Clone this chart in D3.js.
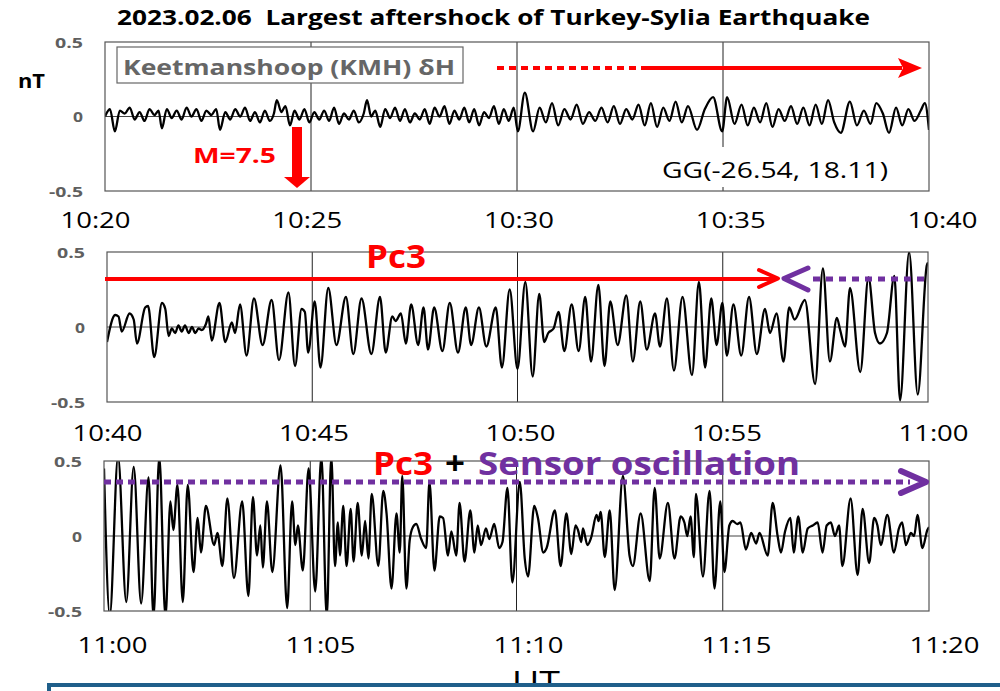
<!DOCTYPE html>
<html><head><meta charset="utf-8">
<script src="https://cdn.jsdelivr.net/npm/d3@7"></script>
<style>body{margin:0;background:#fff;overflow:hidden} svg{display:block}</style>
</head><body>
<script>
// ---------------- DATA ----------------
const titleText = "2023.02.06  Largest aftershock of Turkey-Sylia Earthquake";
const stationLabel = "Keetmanshoop (KMH) δH";
const coordLabel = "GG(-26.54, 18.11)";
const quakeLabel = "M=7.5";
const yTickValues = [-0.5, 0, 0.5];
const yTickLabels = ["-0.5", "0", "0.5"];
const xTickMinutes = [0, 5, 10, 15, 20];
const p1Labels = ["10:20", "10:25", "10:30", "10:35", "10:40"];
const p2Labels = ["10:40", "10:45", "10:50", "10:55", "11:00"];
const p3Labels = ["11:00", "11:05", "11:10", "11:15", "11:20"];

// panel 1 (10:20-10:40), minutes from start / nT
const t1 = [0.00,0.12,0.24,0.36,0.48,0.60,0.72,0.84,0.96,1.08,1.20,1.30,1.38,1.50,1.62,1.74,1.86,1.98,2.10,2.22,2.34,2.46,2.58,2.70,2.79,2.92,3.04,3.16,3.28,3.40,3.52,3.64,3.76,3.88,4.00,4.10,4.17,4.28,4.38,4.49,4.60,4.72,4.84,4.96,5.08,5.20,5.32,5.44,5.56,5.68,5.80,5.92,6.04,6.16,6.28,6.36,6.46,6.56,6.68,6.80,6.92,7.04,7.16,7.28,7.40,7.52,7.64,7.76,7.88,8.00,8.12,8.24,8.36,8.48,8.60,8.72,8.84,8.96,9.08,9.20,9.32,9.44,9.56,9.68,9.80,9.92,10.02,10.19,10.39,10.55,10.70,10.85,11.00,11.15,11.30,11.45,11.60,11.75,11.90,12.05,12.20,12.35,12.50,12.65,12.80,12.95,13.10,13.25,13.40,13.55,13.70,13.85,14.00,14.15,14.37,14.56,14.76,14.98,15.10,15.28,15.45,15.60,15.75,15.90,16.05,16.20,16.35,16.50,16.65,16.80,16.95,17.10,17.25,17.40,17.55,17.70,17.86,18.08,18.25,18.42,18.58,18.72,18.88,19.03,19.20,19.35,19.50,19.65,19.80,19.90,20.00];
const v1 = [0.00,0.05,-0.10,0.04,0.02,0.06,-0.02,0.03,-0.03,0.05,0.01,0.04,-0.08,0.05,-0.01,0.04,-0.02,0.06,0.00,0.05,-0.03,0.04,0.01,0.05,-0.09,0.03,-0.02,0.05,0.00,0.06,-0.03,0.03,-0.04,0.04,-0.03,0.02,0.11,0.03,0.07,-0.06,0.04,-0.02,0.05,-0.04,0.03,-0.02,0.04,-0.03,0.06,-0.05,0.02,-0.02,0.04,-0.04,0.02,0.11,0.00,0.04,-0.07,0.05,-0.01,0.06,-0.03,0.05,-0.04,0.02,-0.02,0.05,-0.05,0.06,0.00,0.07,-0.05,0.04,-0.02,0.06,-0.04,0.05,-0.06,0.03,-0.01,0.07,-0.05,0.05,-0.03,0.06,-0.10,0.16,-0.10,0.06,-0.04,0.09,-0.06,0.05,-0.02,0.08,-0.05,0.03,-0.03,0.06,-0.04,0.07,-0.05,0.05,-0.02,0.08,-0.06,0.09,-0.07,0.06,-0.03,0.10,-0.04,0.07,-0.09,0.05,0.13,-0.10,0.13,-0.05,0.08,-0.06,0.06,-0.04,0.09,-0.07,0.05,-0.03,0.07,-0.05,0.06,-0.06,0.08,-0.05,0.11,-0.04,-0.11,0.10,-0.06,0.04,-0.05,0.09,0.02,-0.11,0.06,-0.06,0.05,-0.03,0.04,0.09,-0.09];

// panel 2 (10:40-11:00)
const t2 = [0.00,0.20,0.28,0.36,0.55,0.65,0.73,0.93,1.00,1.15,1.34,1.42,1.50,1.58,1.66,1.74,1.82,1.90,1.99,2.07,2.15,2.23,2.31,2.41,2.47,2.55,2.74,2.88,3.04,3.12,3.24,3.40,3.58,3.79,4.01,4.19,4.42,4.58,4.74,4.82,4.90,5.06,5.20,5.39,5.59,5.82,6.00,6.20,6.44,6.65,6.79,6.95,7.03,7.16,7.28,7.41,7.58,7.71,7.82,7.97,8.17,8.35,8.55,8.74,8.87,9.06,9.24,9.47,9.62,9.81,10.00,10.19,10.37,10.53,10.65,10.75,10.88,11.00,11.14,11.32,11.49,11.65,11.79,11.97,12.12,12.26,12.44,12.65,12.81,12.99,13.15,13.35,13.47,13.64,13.81,14.02,14.25,14.42,14.57,14.72,14.85,14.99,15.10,15.26,15.45,15.64,15.83,16.03,16.15,16.31,16.48,16.62,16.75,17.00,17.25,17.44,17.61,17.78,17.86,17.98,18.10,18.35,18.55,18.71,18.83,19.00,19.18,19.32,19.54,19.75,19.97,20.00];
const v2 = [-0.10,0.08,0.07,-0.03,0.09,0.05,-0.11,0.13,0.14,-0.20,0.16,0.12,-0.06,-0.01,-0.04,0.01,-0.03,0.01,-0.04,0.00,-0.04,-0.01,-0.02,0.02,0.07,-0.09,0.16,-0.10,0.03,-0.04,0.15,-0.19,0.19,-0.12,0.18,-0.22,0.23,-0.26,0.12,0.10,-0.17,0.17,-0.27,0.26,-0.12,0.20,-0.18,0.19,-0.18,0.20,-0.17,0.07,0.04,0.09,-0.11,0.15,-0.12,0.13,-0.15,0.13,-0.16,0.16,-0.17,0.13,-0.12,0.13,-0.13,0.13,-0.27,0.25,-0.28,0.30,-0.33,0.22,-0.10,-0.04,-0.01,0.10,-0.16,0.15,-0.16,0.20,-0.23,0.28,-0.26,0.17,-0.12,0.21,-0.23,0.17,-0.15,0.09,-0.13,0.19,-0.29,0.20,-0.32,0.30,-0.27,0.19,-0.12,0.16,-0.19,0.15,-0.19,0.20,-0.18,0.12,-0.04,0.09,-0.23,0.13,0.05,0.18,-0.38,0.39,-0.23,0.06,-0.02,-0.13,0.26,-0.30,0.33,-0.04,-0.11,-0.04,0.34,-0.49,0.50,-0.45,0.41,0.43];

// panel 3 (11:00-11:20)
const t3 = [0.00,0.14,0.34,0.54,0.72,0.90,1.08,1.20,1.34,1.49,1.61,1.68,1.78,1.91,2.03,2.17,2.27,2.35,2.47,2.67,2.75,2.87,2.99,3.15,3.35,3.50,3.61,3.71,3.79,3.85,3.95,4.08,4.28,4.44,4.56,4.64,4.70,4.82,4.96,5.12,5.27,5.40,5.51,5.60,5.67,5.72,5.80,5.88,5.98,6.05,6.15,6.25,6.33,6.41,6.49,6.65,6.77,6.85,6.97,7.09,7.17,7.23,7.33,7.41,7.49,7.57,7.69,7.81,7.89,8.01,8.14,8.22,8.34,8.42,8.54,8.62,8.74,8.88,8.98,9.06,9.14,9.26,9.34,9.46,9.58,9.66,9.78,9.90,10.08,10.20,10.28,10.43,10.52,10.65,10.73,10.93,11.07,11.21,11.33,11.43,11.49,11.57,11.61,11.72,11.81,11.94,11.99,12.04,12.14,12.26,12.38,12.58,12.74,12.82,13.01,13.23,13.35,13.47,13.67,13.83,13.98,14.07,14.14,14.22,14.30,14.35,14.52,14.68,14.80,14.94,15.04,15.16,15.24,15.35,15.43,15.56,15.69,15.81,15.89,16.09,16.21,16.33,16.41,16.51,16.64,16.72,16.83,16.94,17.06,17.18,17.30,17.42,17.52,17.62,17.72,17.82,17.90,18.10,18.27,18.39,18.55,18.67,18.75,18.83,18.99,19.15,19.27,19.35,19.44,19.56,19.64,19.72,19.84,19.96,20.00];
const v3 = [0.45,-0.53,0.53,-0.44,0.46,-0.45,0.39,-0.54,0.53,-0.54,0.23,0.04,0.34,-0.44,0.34,-0.24,0.12,-0.11,0.20,-0.06,0.02,-0.20,0.25,-0.28,0.23,-0.40,0.26,-0.13,0.07,-0.21,0.23,-0.24,0.47,-0.48,0.23,-0.06,0.07,-0.23,0.45,-0.37,0.53,-0.54,0.53,-0.20,0.09,-0.13,0.20,-0.20,0.18,-0.17,0.22,-0.13,0.10,-0.15,0.28,-0.20,0.30,0.15,-0.35,0.15,-0.11,0.40,-0.35,-0.03,0.06,0.08,-0.02,-0.08,0.36,-0.23,0.13,0.12,-0.13,0.03,-0.13,0.22,-0.17,0.17,-0.11,0.07,-0.06,0.05,-0.02,0.08,-0.08,-0.04,0.32,-0.31,0.36,-0.15,-0.27,0.20,0.12,-0.11,-0.08,0.17,-0.20,0.15,-0.12,0.07,0.04,-0.04,0.05,-0.06,-0.01,0.14,0.10,0.16,-0.14,0.17,-0.36,0.40,-0.13,-0.20,0.15,-0.30,0.32,-0.15,0.22,-0.15,0.13,0.09,0.00,0.13,-0.14,0.28,-0.27,0.30,-0.35,0.23,-0.24,0.07,0.10,0.08,0.09,-0.09,0.02,-0.05,0.02,-0.13,0.22,0.00,-0.11,0.03,0.12,-0.11,0.13,-0.11,0.05,0.07,0.09,-0.11,0.07,0.09,0.00,0.07,-0.20,0.25,-0.26,0.18,-0.18,0.12,0.07,-0.06,0.14,-0.11,0.05,0.09,-0.06,0.02,0.00,0.14,-0.08,0.04,0.06];

// ---------------- DRAW ----------------
const W = 1000, H = 691;
const FONT = "'Open Sans', 'DejaVu Sans', sans-serif";
const RED = "#ff0000", PURPLE = "#7030a0";
const svg = d3.select("body").append("svg").attr("width", W).attr("height", H);
const defs = svg.append("defs");

function txt(x, y, s, size, weight, fill, width, anchor) {
  const t = svg.append("text").attr("x", x).attr("y", y).text(s)
    .attr("font-family", FONT).attr("font-size", size).attr("font-weight", weight)
    .attr("fill", fill).style("white-space", "pre").attr("text-anchor", anchor || "start");
  if (width) t.attr("textLength", width).attr("lengthAdjust", "spacingAndGlyphs");
  return t;
}

const panels = [
  {t: t1, v: v1, labels: p1Labels, L: 105, R: 929, T: 42, B: 191, lab: [95, 942], base: 228},
  {t: t2, v: v2, labels: p2Labels, L: 107, R: 928, T: 252, B: 402, lab: [107, 933], base: 441},
  {t: t3, v: v3, labels: p3Labels, L: 104, R: 929, T: 461, B: 611, lab: [112, 944], base: 653}
];
const yLabelWidths = {"-0.5": 34, "0": 10, "0.5": 28};

panels.forEach((p, i) => {
  const x = d3.scaleLinear().domain([0, 20]).range([p.L, p.R]);
  const y = d3.scaleLinear().domain([-0.5, 0.5]).range([p.B, p.T]);
  const g = svg.append("g");

  g.append("line").attr("x1", p.L).attr("x2", p.R).attr("y1", y(0)).attr("y2", y(0))
    .attr("stroke", "#444").attr("stroke-width", 1);
  g.selectAll(".vg").data([5, 10, 15]).join("line")
    .attr("x1", d => x(d)).attr("x2", d => x(d)).attr("y1", p.T).attr("y2", p.B)
    .attr("stroke", "#222").attr("stroke-width", 1);

  defs.append("clipPath").attr("id", "clip" + i).append("rect")
    .attr("x", p.L).attr("y", p.T).attr("width", p.R - p.L).attr("height", p.B - p.T);
  const pts = p.t.map((d, k) => [d, p.v[k]]);
  g.append("path").datum(pts).attr("clip-path", `url(#clip${i})`)
    .attr("d", d3.line().x(d => x(d[0])).y(d => y(d[1])).curve(d3.curveMonotoneX))
    .attr("fill", "none").attr("stroke", "#000").attr("stroke-width", 2.3)
    .attr("stroke-linejoin", "round");

  g.append("rect").attr("x", p.L).attr("y", p.T).attr("width", p.R - p.L).attr("height", p.B - p.T)
    .attr("fill", "none").attr("stroke", "#555").attr("stroke-width", 1.2);

  const ya = svg.append("g").attr("transform", `translate(${p.L},0)`)
    .call(d3.axisLeft(y).tickValues(yTickValues).tickFormat((d, k) => yTickLabels[k]).tickSize(0).tickPadding(22));
  ya.select(".domain").remove();
  ya.selectAll("text").attr("font-family", FONT).attr("font-size", 15).attr("font-weight", "bold")
    .attr("fill", "#5f5f5f").attr("dy", "0.36em")
    .each(function(d, k) { d3.select(this).attr("textLength", yLabelWidths[yTickLabels[k]]).attr("lengthAdjust", "spacingAndGlyphs"); });

  const xl = d3.scaleLinear().domain([0, 20]).range(p.lab);
  const xa = svg.append("g").attr("transform", `translate(0,${p.base})`)
    .call(d3.axisBottom(xl).tickValues(xTickMinutes).tickFormat((d, k) => p.labels[k]).tickSize(0));
  xa.select(".domain").remove();
  xa.selectAll("text").attr("y", 0).attr("dy", 0).attr("font-family", FONT).attr("font-size", 22)
    .attr("fill", "#000").attr("textLength", 70).attr("lengthAdjust", "spacingAndGlyphs");
});

// ---------- annotations ----------
txt(117, 25, titleText, 21, "bold", "#000", 753);
txt(18, 88, "nT", 19, "bold", "#000", 27);

svg.append("rect").attr("x", 117).attr("y", 47).attr("width", 346).attr("height", 36)
  .attr("fill", "#fff").attr("stroke", "#666").attr("stroke-width", 1.2);
txt(123, 75, stationLabel, 21, "bold", "#666", 332);

svg.append("rect").attr("x", 655).attr("y", 147).attr("width", 240).attr("height", 40).attr("fill", "#fff");
txt(662, 178, coordLabel, 21, "normal", "#000", 226);

svg.append("line").attr("x1", 497).attr("x2", 640).attr("y1", 68).attr("y2", 68)
  .attr("stroke", RED).attr("stroke-width", 4).attr("stroke-dasharray", "7,5");
svg.append("line").attr("x1", 641).attr("x2", 902).attr("y1", 68).attr("y2", 68)
  .attr("stroke", RED).attr("stroke-width", 4);
svg.append("path").attr("d", "M898,58 L922,68 L898,78 L903,68 Z").attr("fill", RED);

txt(193, 163, quakeLabel, 22, "bold", RED, 83);
svg.append("rect").attr("x", 292).attr("y", 127).attr("width", 10).attr("height", 51).attr("fill", RED);
svg.append("path").attr("d", "M284,177 L310,177 L297,188 Z").attr("fill", RED);

txt(366, 268, "Pc3", 32, "bold", RED, 60);
svg.append("line").attr("x1", 105).attr("x2", 777).attr("y1", 279).attr("y2", 279)
  .attr("stroke", RED).attr("stroke-width", 4);
svg.append("path").attr("d", "M759,270 L778,278.5 L759,287").attr("fill", "none")
  .attr("stroke", RED).attr("stroke-width", 4).attr("stroke-linecap", "round").attr("stroke-linejoin", "round");
svg.append("path").attr("d", "M808,268 L784,278.5 L808,290").attr("fill", "none")
  .attr("stroke", PURPLE).attr("stroke-width", 5).attr("stroke-linecap", "round").attr("stroke-linejoin", "round");
svg.append("line").attr("x1", 813).attr("x2", 928).attr("y1", 279).attr("y2", 279)
  .attr("stroke", PURPLE).attr("stroke-width", 5).attr("stroke-dasharray", "7,6");

txt(373, 475, "Pc3", 32, "bold", RED, 60);
txt(445, 475, "+", 32, "bold", "#000", 20);
txt(478, 475, "Sensor oscillation", 32, "bold", PURPLE, 322);
svg.append("line").attr("x1", 104).attr("x2", 910).attr("y1", 482).attr("y2", 482)
  .attr("stroke", PURPLE).attr("stroke-width", 5).attr("stroke-dasharray", "7,5");
svg.append("path").attr("d", "M901,471 L926,482 L901,493").attr("fill", "none")
  .attr("stroke", PURPLE).attr("stroke-width", 6).attr("stroke-linecap", "round").attr("stroke-linejoin", "round");

txt(512, 692, "UT", 30, "normal", "#000", 48);
svg.append("rect").attr("x", 49).attr("y", 685).attr("width", 1000).attr("height", 40)
  .attr("fill", "#fff").attr("stroke", "#1f5f8a").attr("stroke-width", 4);
</script>
</body></html>
